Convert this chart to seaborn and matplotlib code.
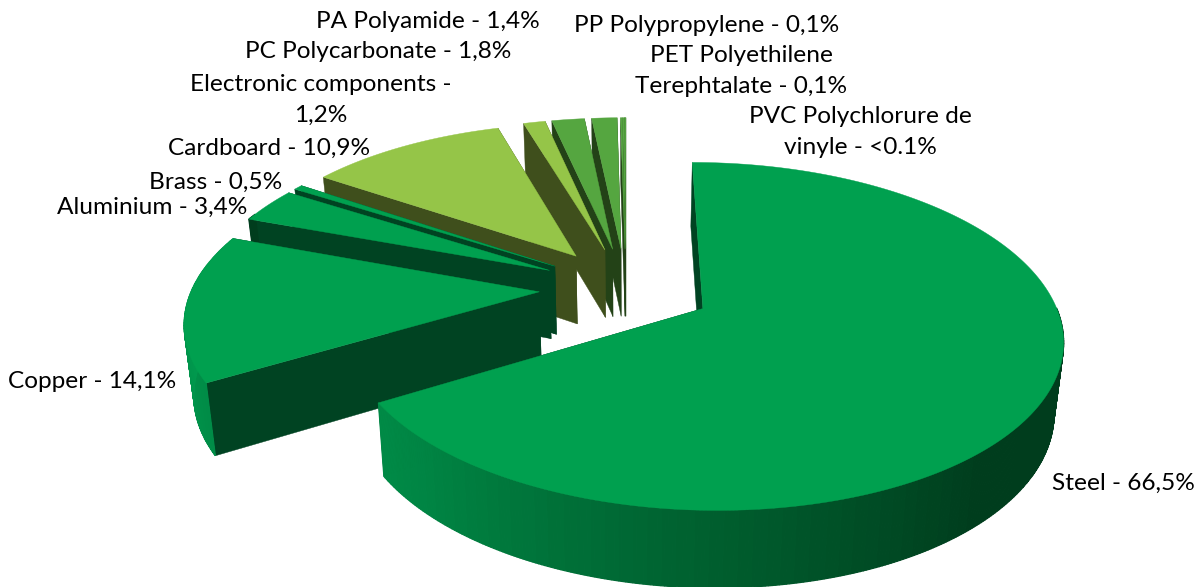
import numpy as np
import matplotlib
matplotlib.use("Agg")
import matplotlib.pyplot as plt
import seaborn as sns

# values as printed on the labels, clockwise from 12 o'clock
materials = ["Steel", "Copper", "Aluminium", "Brass", "Cardboard", "Electronic components",
             "PC Polycarbonate", "PA Polyamide", "PP Polypropylene", "PET Polyethilene Terephtalate",
             "PVC Polychlorure de vinyle"]
shares = [66.5, 14.1, 3.4, 0.5, 10.9, 1.2, 1.8, 1.4, 0.1, 0.1, 0.05]
label_texts = ["Steel - 66,5%", "Copper - 14,1%", "Aluminium - 3,4%", "Brass - 0,5%", "Cardboard - 10,9%",
               "Electronic components -\n1,2%", "PC Polycarbonate - 1,8%", "PA Polyamide - 1,4%",
               "PP Polypropylene - 0,1%", "PET Polyethilene\nTerephtalate - 0,1%",
               "PVC Polychlorure de\nvinyle - <0.1%"]
label_x = [1123, 92, 152, 216, 269, 321, 378, 428, 707, 741, 860]
label_y = [483, 381, 207, 182, 148, 100, 52, 21, 26, 71, 132]

GREEN = "#00A04F"
LIGHT = "#95C548"
MID = "#55A640"
top_colors = [GREEN, GREEN, GREEN, GREEN, LIGHT, LIGHT, MID, MID, MID, MID, MID]
wall_colors = {GREEN: "#004322", LIGHT: "#3F4F1C", MID: "#234217"}

CX, CY = 626, 288
SCALE = 347
P = 0.157
C = 163
EXPLODE = 0.25
HEIGHT = 69
BOTTOM_SHRINK = 0.978

shade = sns.blend_palette(["#009A4E", "#008443", "#00602F", "#003D1D"], 64)


def project(x, y, bottom=False):
    w = 1 - P * y
    sx = SCALE * x / w
    sy = C * y / w
    if bottom:
        return CX + sx * BOTTOM_SHRINK, CY + sy + HEIGHT / w ** 0.6
    return CX + sx, CY + sy


def wall_color(top, phi):
    if top != GREEN:
        return wall_colors[top]
    if phi >= 160:
        f = 0
    elif phi > -50:
        f = 1
    else:
        f = (phi + 180) / 130
    return shade[int(f * 63)]


sns.set_style("white")
plt.rcParams["font.family"] = ["Lato", "DejaVu Sans"]
fig = plt.figure(figsize=(12, 5.87), dpi=100)
ax = fig.add_axes([0, 0, 1, 1])
ax.set_xlim(0, 1200)
ax.set_ylim(587, 0)
ax.axis("off")

total = sum(shares)
ends = 90 - np.cumsum(shares) / total * 360
starts = np.r_[90, ends[:-1]]

# back slices first, the steel slice last
for i in range(len(shares) - 1, -1, -1):
    th = np.radians(np.linspace(starts[i], ends[i], max(3, int(starts[i] - ends[i]) * 2)))
    mid = np.radians((starts[i] + ends[i]) / 2)
    ex = EXPLODE * np.cos(mid)
    ey = -EXPLODE * np.sin(mid)
    rim_x = ex + np.cos(th)
    rim_y = ey - np.sin(th)
    color = top_colors[i]

    # the two cut faces
    for k in (0, -1):
        xs = [ex, rim_x[k], rim_x[k], ex]
        ys = [ey, rim_y[k], rim_y[k], ey]
        flags = [False, False, True, True]
        pts = [project(a, b, f) for a, b, f in zip(xs, ys, flags)]
        ax.fill(*zip(*pts), color=wall_colors[color], lw=0.3, zorder=i * -3 + 100)

    # outer rim, in small quads so the shading can run along it
    for j in range(len(th) - 1):
        phi = np.degrees((th[j] + th[j + 1]) / 2)
        phi = (phi + 180) % 360 - 180
        if 0 < phi < 158:  # faces away, hidden behind the top
            continue
        pts = [project(rim_x[j], rim_y[j]), project(rim_x[j + 1], rim_y[j + 1]),
               project(rim_x[j + 1], rim_y[j + 1], True), project(rim_x[j], rim_y[j], True)]
        ax.fill(*zip(*pts), color=wall_color(color, phi), lw=0.9, zorder=i * -3 + 101)

    top = [project(ex, ey)] + [project(a, b) for a, b in zip(rim_x, rim_y)]
    ax.fill(*zip(*top), color=color, lw=0.3, zorder=i * -3 + 102)

for txt, x, y in zip(label_texts, label_x, label_y):
    ax.text(x, y, txt, ha="center", va="center", fontsize=17.6, color="black",
            linespacing=1.54, zorder=200)

fig.savefig("out.png", dpi=100)
